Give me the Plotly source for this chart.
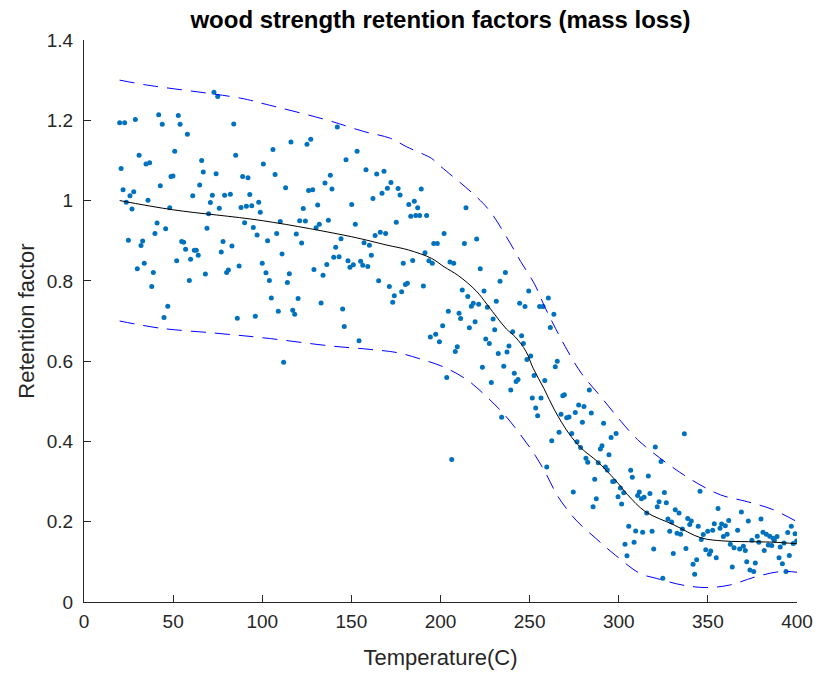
import plotly.graph_objects as go

# Scatter observations: temperature (C) and retention factor
scatter_temp = [
    20.0, 22.8, 28.8, 41.9, 43.9, 52.9, 53.9, 58.0, 72.9, 75.0, 84.0, 30.9, 20.8, 34.8, 36.8, 50.9, 66.0, 85.1, 100.6, 66.9,
    74.1, 48.8, 49.9, 89.0, 92.0, 21.9, 27.9, 25.8, 42.8, 64.9, 61.0, 72.0, 78.9, 82.1, 93.0, 23.7, 35.9, 70.9, 26.9, 48.1,
    75.9, 88.1, 91.1, 94.1, 98.0, 98.9, 69.9, 41.0, 45.8, 69.0, 90.1, 95.0,
    97.1, 24.9, 32.9, 32.0, 39.8, 54.8, 55.9, 57.0, 61.9, 63.0, 64.1, 59.8, 52.0, 78.0, 83.0, 77.0, 33.8, 29.9, 38.9, 68.1,
    59.1, 87.0, 80.0, 81.0, 100.0, 38.0, 47.0, 44.9, 86.0, 96.1,
    106.0, 107.2, 116.1, 125.1, 127.2, 142.1, 153.2, 147.0, 158.2, 164.2, 168.3, 172.2, 170.2, 167.2, 176.2, 177.3, 189.2, 162.1, 138.2, 135.2,
    139.1, 113.1, 126.0, 128.3, 123.0, 131.1, 150.2, 182.2, 185.3, 187.2, 183.3, 186.1, 188.3, 192.2, 110.1, 121.0, 124.2, 137.1, 132.0, 130.2,
    152.2, 175.2, 108.1, 119.1, 103.0, 122.1, 144.2, 163.3, 166.2, 169.2, 157.1, 160.1, 141.2, 196.2, 198.2, 202.0,
    111.1, 102.1, 104.0, 114.1, 115.2, 105.1, 120.1, 109.0, 117.1, 118.2, 112.0, 129.0, 134.1, 136.2, 140.1, 143.1, 148.1, 149.2, 151.1, 155.2,
    156.4, 159.2, 161.2, 133.0, 145.1, 146.0, 154.3, 165.3, 171.3, 174.1, 173.2, 178.2, 180.3, 181.4, 179.1, 184.4, 190.4, 191.3, 193.5, 195.4,
    201.2, 194.3, 197.3, 199.4,
    214.3, 213.4, 220.3, 205.3, 207.4, 222.3, 236.4, 233.4, 212.2, 224.4, 215.3, 218.4, 217.3, 221.4, 226.3, 231.3, 249.5, 244.4, 247.4, 255.6,
    257.5, 260.5, 204.4, 210.4, 211.3, 219.4, 229.5, 216.2, 230.4, 261.6, 263.6,
    240.5, 245.5, 246.5, 225.4, 227.4, 209.4, 208.3, 238.4, 232.4, 237.3, 250.6, 248.5, 223.5, 235.5, 203.5, 228.5, 241.4, 243.5, 242.4, 252.5,
    258.5, 239.4, 251.5, 256.4, 253.4, 254.5, 234.3, 262.4, 206.3,
    265.5, 264.4, 283.5, 268.6, 269.5, 277.5, 280.5, 284.6, 275.6, 267.6, 270.8, 272.1,
    279.6, 291.5, 266.5, 273.6, 298.5, 295.7, 276.6, 278.6, 290.6, 289.7, 294.5, 281.6, 282.6, 288.5, 292.5, 293.6, 259.6, 306.7, 307.6, 286.5,
    296.6, 297.5, 300.9, 302.8, 311.5, 310.6, 312.7, 314.2, 274.5, 299.6, 287.4, 301.6, 285.6, 305.6, 309.5, 313.4, 303.5, 308.6, 304.6,
    336.8, 320.5, 323.7, 316.6, 317.5, 325.6, 322.6, 326.7, 321.6, 345.6, 355.7, 331.7,
    315.7, 333.8, 368.8, 327.6, 329.7, 338.7, 340.7, 339.8, 344.6, 353.6, 357.7, 359.8, 361.7, 356.8, 372.7, 379.8, 394.8, 396.8, 398.9, 399.8,
    318.7, 328.6, 332.7, 334.7, 335.7, 352.7, 349.9, 358.7, 360.8, 366.7, 347.4, 346.3, 380.9, 382.8, 384.7, 377.7, 374.7, 378.6, 386.5, 387.3,
    388.8, 383.9, 385.8, 392.7, 390.6, 397.9, 362.6, 364.7, 367.8, 369.9, 371.0, 381.6, 389.9, 391.8, 393.8, 395.7, 319.6, 330.6, 337.7, 348.8,
    350.8, 351.6, 354.7, 343.7, 341.7, 342.6, 363.7, 371.8, 376.6, 373.6, 375.7, 324.7,
]
scatter_ret = [
    1.194, 1.194, 1.202, 1.214, 1.190, 1.212, 1.190, 1.165, 1.270, 1.259, 1.191, 1.113, 1.080, 1.091, 1.094, 1.123, 1.100, 1.113, 1.091, 1.071,
    1.067, 1.060, 1.061, 1.060, 1.057, 1.027, 1.022, 1.012, 1.037, 1.039, 1.012, 1.013, 1.013, 1.016, 1.015, 0.996, 1.001, 0.995, 0.979, 0.982,
    0.981, 0.983, 0.986, 0.987, 0.996, 0.971, 0.967, 0.944, 0.930, 0.931, 0.945, 0.933,
    0.914, 0.901, 0.899, 0.888, 0.918, 0.898, 0.896, 0.879, 0.876, 0.876, 0.864, 0.854, 0.850, 0.898, 0.887, 0.872, 0.844, 0.830, 0.821, 0.817,
    0.801, 0.837, 0.821, 0.827, 0.844, 0.786, 0.737, 0.709, 0.707, 0.712,
    1.127, 1.065, 1.146, 1.140, 1.153, 1.183, 1.123, 1.102, 1.077, 1.066, 1.073, 1.045, 1.031, 1.018, 1.030, 1.014, 1.029, 1.005, 1.063, 1.044,
    1.029, 1.032, 1.025, 1.027, 0.980, 0.989, 0.990, 0.990, 0.998, 0.982, 0.961, 0.963, 0.963, 0.963, 0.948, 0.950, 0.949, 0.951, 0.941, 0.932,
    0.941, 0.946, 0.918, 0.917, 0.900, 0.894, 0.905, 0.913, 0.921, 0.918, 0.895, 0.889, 0.884, 0.893, 0.893, 0.918,
    0.867, 0.820, 0.801, 0.796, 0.818, 0.757, 0.756, 0.724, 0.727, 0.717, 0.597, 0.828, 0.814, 0.841, 0.859, 0.860, 0.850, 0.834, 0.840, 0.849,
    0.839, 0.836, 0.864, 0.745, 0.730, 0.686, 0.651, 0.800, 0.786, 0.763, 0.747, 0.773, 0.791, 0.794, 0.844, 0.851, 0.787, 0.870, 0.850, 0.844,
    0.688, 0.660, 0.667, 0.648,
    0.982, 0.893, 0.904, 0.847, 0.844, 0.830, 0.821, 0.799, 0.777, 0.775, 0.761, 0.744, 0.737, 0.742, 0.734, 0.749, 0.775, 0.744, 0.736, 0.736,
    0.736, 0.757, 0.724, 0.719, 0.706, 0.698, 0.705, 0.683, 0.678, 0.684, 0.717,
    0.673, 0.663, 0.644, 0.655, 0.644, 0.636, 0.624, 0.638, 0.619, 0.623, 0.613, 0.604, 0.585, 0.587, 0.559, 0.547, 0.570, 0.554, 0.549, 0.564,
    0.552, 0.528, 0.508, 0.508, 0.483, 0.464, 0.460, 0.402, 0.355,
    0.600, 0.586, 0.528, 0.514, 0.516, 0.491, 0.487, 0.471, 0.472, 0.468, 0.459, 0.461,
    0.448, 0.445, 0.423, 0.420, 0.420, 0.410, 0.399, 0.385, 0.389, 0.381, 0.367, 0.358, 0.348, 0.347, 0.336, 0.329, 0.336, 0.328, 0.311, 0.306,
    0.300, 0.301, 0.284, 0.272, 0.274, 0.265, 0.257, 0.261, 0.274, 0.262, 0.257, 0.244, 0.237, 0.189, 0.177, 0.174, 0.144, 0.149, 0.115,
    0.419, 0.386, 0.350, 0.314, 0.270, 0.273, 0.250, 0.247, 0.237, 0.276, 0.233, 0.230,
    0.222, 0.222, 0.224, 0.207, 0.199, 0.208, 0.202, 0.193, 0.189, 0.195, 0.194, 0.190, 0.203, 0.184, 0.202, 0.207, 0.173, 0.189, 0.170, 0.152,
    0.176, 0.176, 0.171, 0.169, 0.182, 0.179, 0.176, 0.163, 0.169, 0.179, 0.168, 0.156, 0.174, 0.169, 0.164, 0.164, 0.154, 0.149, 0.159, 0.154,
    0.163, 0.142, 0.141, 0.147, 0.137, 0.146, 0.144, 0.135, 0.132, 0.139, 0.128, 0.128, 0.110, 0.095, 0.076, 0.116, 0.132, 0.121, 0.133, 0.130,
    0.119, 0.127, 0.110, 0.105, 0.094, 0.069, 0.087, 0.100, 0.097, 0.080, 0.076, 0.059,
]

# Fitted mean curve
mean_temp = [20, 50, 100, 150, 170, 182, 195, 202, 210, 220, 226, 232, 237, 242, 248, 252, 258, 264, 272, 279,
             288, 298, 305, 315, 331, 346, 359, 377, 387, 400]
mean_ret = [1.0, 0.977, 0.95, 0.91, 0.889, 0.877, 0.856, 0.835, 0.813, 0.775, 0.742, 0.707, 0.680, 0.660, 0.624, 0.582,
            0.532, 0.478, 0.420, 0.383, 0.350, 0.304, 0.267, 0.225, 0.192, 0.160, 0.152, 0.150, 0.149, 0.145]

# Upper bound
upper_temp = [20, 35, 88, 101, 136, 157, 172, 181, 195, 198, 220, 228, 238, 245, 253, 258, 263, 270, 279, 290,
              299, 308, 315, 331, 344, 357, 372, 386, 400]
upper_ret = [1.300, 1.288, 1.255, 1.241, 1.201, 1.172, 1.155, 1.134, 1.105, 1.093, 1.010, 0.972, 0.902, 0.848, 0.790,
             0.740, 0.695, 0.636, 0.570, 0.511, 0.462, 0.416, 0.387, 0.333, 0.296, 0.267, 0.250, 0.231, 0.200]

# Lower bound
lower_temp = [20, 43, 73, 101, 138, 161, 176, 189, 202, 215, 226, 236, 245, 253, 259, 266, 276, 287, 298, 312,
              321, 336, 349, 362, 377, 391, 400]
lower_ret = [0.70, 0.682, 0.670, 0.658, 0.638, 0.629, 0.621, 0.605, 0.585, 0.553, 0.511, 0.466, 0.416, 0.366, 0.321,
             0.262, 0.204, 0.159, 0.117, 0.071, 0.059, 0.042, 0.036, 0.042, 0.063, 0.076, 0.074]

x_ticks = [0, 50, 100, 150, 200, 250, 300, 350, 400]
y_ticks = [0, 0.2, 0.4, 0.6, 0.8, 1.0, 1.2, 1.4]
y_tick_labels = ["0", "0.2", "0.4", "0.6", "0.8", "1", "1.2", "1.4"]

FONT = "Liberation Sans, Arial, sans-serif"
AX = "#262626"

fig = go.Figure()
fig.add_trace(go.Scatter(x=scatter_temp, y=scatter_ret, mode="markers",
                         marker=dict(size=5, color="#0072BD", line=dict(width=0)), showlegend=False))
fig.add_trace(go.Scatter(x=mean_temp, y=mean_ret, mode="lines", line=dict(color="black", width=1, shape="spline"),
                         showlegend=False))
for xs, ys in [(upper_temp, upper_ret), (lower_temp, lower_ret)]:
    fig.add_trace(go.Scatter(x=xs, y=ys, mode="lines",
                             line=dict(color="#0000FF", width=1, dash="15px,9px", shape="spline"),
                             showlegend=False))

fig.update_layout(
    width=820, height=673,
    margin=dict(l=84, r=23, t=40, b=71),
    paper_bgcolor="white", plot_bgcolor="white",
    title=dict(text="<b>wood strength retention factors (mass loss)</b>", x=(84 + 797) / 2 / 820, xanchor="center",
               y=1 - 20 / 673, yanchor="middle", font=dict(family=FONT, size=24, color="black")),
    font=dict(family=FONT, color=AX),
)
fig.update_xaxes(range=[0, 400], tickvals=x_ticks, ticks="inside", ticklen=7, tickcolor=AX, tickwidth=1,
                 showline=True, linecolor=AX, linewidth=1, showgrid=False, zeroline=False,
                 ticklabelstandoff=2, automargin=False,
                 tickfont=dict(size=19, color=AX, family=FONT),
                 title=dict(text="Temperature(C)", font=dict(size=22, color=AX, family=FONT), standoff=18))
fig.update_yaxes(range=[0, 1.4], tickvals=y_ticks, ticktext=y_tick_labels, ticks="inside", ticklen=7, tickcolor=AX,
                 tickwidth=1, showline=True, linecolor=AX, linewidth=1, showgrid=False, zeroline=False,
                 ticklabelstandoff=6, automargin=False,
                 tickfont=dict(size=19, color=AX, family=FONT),
                 title=dict(text="Retention factor", font=dict(size=22, color=AX, family=FONT), standoff=6))

fig.write_html("out.html")
